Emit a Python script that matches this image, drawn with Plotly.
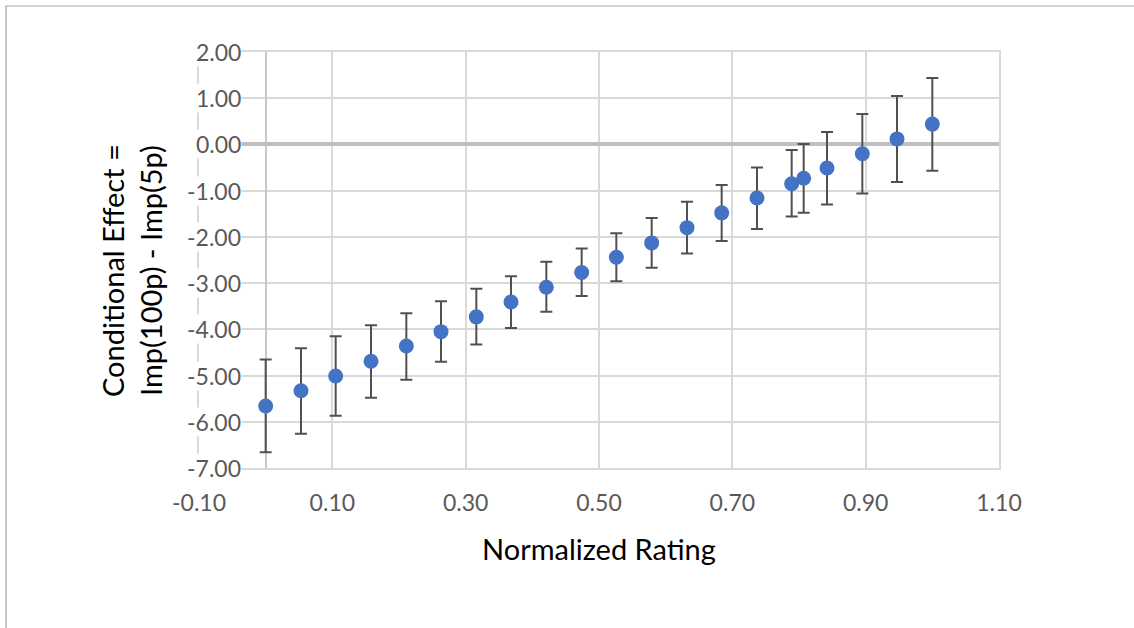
import plotly.graph_objects as go

# ---- data ----
rating = [0.000, 0.053, 0.105, 0.158, 0.211, 0.263, 0.316, 0.368, 0.421, 0.474,
          0.526, 0.579, 0.632, 0.684, 0.737, 0.789, 0.807, 0.842, 0.895, 0.947, 1.000]
effect = [-5.66, -5.33, -5.01, -4.69, -4.36, -4.05, -3.73, -3.41, -3.09, -2.77,
          -2.44, -2.13, -1.80, -1.48, -1.16, -0.85, -0.73, -0.51, -0.20, 0.12, 0.44]
err_plus = [1.01, 0.92, 0.86, 0.78, 0.71, 0.66, 0.61, 0.56, 0.55, 0.52,
            0.52, 0.54, 0.56, 0.60, 0.66, 0.73, 0.74, 0.78, 0.86, 0.93, 1.00]
err_minus = [1.00, 0.93, 0.86, 0.79, 0.73, 0.65, 0.60, 0.56, 0.53, 0.51,
             0.52, 0.54, 0.56, 0.61, 0.67, 0.71, 0.75, 0.79, 0.86, 0.93, 1.01]
x_ticks = [-0.10, 0.10, 0.30, 0.50, 0.70, 0.90, 1.10]
x_tick_labels = ["-0.10", "0.10", "0.30", "0.50", "0.70", "0.90", "1.10"]
y_ticks = [2.00, 1.00, 0.00, -1.00, -2.00, -3.00, -4.00, -5.00, -6.00, -7.00]
y_tick_labels = ["2.00", "1.00", "0.00", "-1.00", "-2.00", "-3.00", "-4.00",
                 "-5.00", "-6.00", "-7.00"]
x_title = "Normalized Rating"
y_title = "Conditional Effect =<br>Imp(100p) - Imp(5p)"

# ---- layout geometry ----
W, H = 1134, 628
ML, MR, MT, MB = 199, 135, 52, 160
PW, PH = W - ML - MR, H - MT - MB


def px_x(px):
    return (px - ML) / PW


def px_y(py):
    return 1 - (py - MT) / PH


FONT = "Lato, Calibri, Carlito, sans-serif"
TICK_COLOR = "#595959"
TICK_SIZE = 23
TITLE_SIZE = 29

fig = go.Figure()
fig.add_trace(go.Scatter(
    x=rating, y=effect, mode="markers",
    marker=dict(size=15, color="#4472C4"),
    error_y=dict(type="data", symmetric=False, array=err_plus, arrayminus=err_minus,
                 color="#505050", thickness=2, width=6),
    showlegend=False, cliponaxis=False,
))

annotations = []
for v, t in zip(y_ticks, y_tick_labels):
    annotations.append(dict(
        x=0, xref="x", y=v, yref="y", text=t, showarrow=False,
        xanchor="right", yanchor="middle", xshift=-24,
        font=dict(family=FONT, size=TICK_SIZE, color=TICK_COLOR),
        bgcolor="white", borderpad=0,
    ))
annotations.append(dict(
    x=0.5, xref="paper", y=px_y(548), yref="paper", text=x_title, showarrow=False,
    xanchor="center", yanchor="middle",
    font=dict(family=FONT, size=TITLE_SIZE, color="#000000"),
))
annotations.append(dict(
    x=px_x(131), xref="paper", y=px_y(271), yref="paper", text=y_title, showarrow=False,
    xanchor="center", yanchor="middle", textangle=-90,
    font=dict(family=FONT, size=TITLE_SIZE, color="#000000"),
))

fig.update_layout(
    width=W, height=H,
    margin=dict(l=ML, r=MR, t=MT, b=MB, autoexpand=False),
    paper_bgcolor="white", plot_bgcolor="white",
    annotations=annotations,
    shapes=[dict(type="rect", xref="paper", yref="paper",
                 x0=px_x(6), y0=px_y(700), x1=px_x(1200), y1=px_y(6),
                 line=dict(color="#a6a6a6", width=1.2), fillcolor="rgba(0,0,0,0)",
                 layer="below")],
)
fig.update_xaxes(
    range=[-0.10, 1.10], tickvals=x_ticks, ticktext=x_tick_labels,
    showgrid=True, gridcolor="#d9d9d9", gridwidth=1.5,
    zeroline=True, zerolinecolor="#c8c8c8", zerolinewidth=1.8,
    ticks="", ticklabelstandoff=14,
    tickfont=dict(family=FONT, size=TICK_SIZE, color=TICK_COLOR),
    showline=True, linecolor="#d9d9d9", linewidth=1.5, mirror=True,
    fixedrange=True,
)
fig.update_yaxes(
    range=[-7.0, 2.0], tickvals=y_ticks, showticklabels=False,
    showgrid=True, gridcolor="#d9d9d9", gridwidth=1.5,
    zeroline=True, zerolinecolor="#bfbfbf", zerolinewidth=4,
    ticks="",
    showline=True, linecolor="#d9d9d9", linewidth=1.5, mirror=True,
    fixedrange=True,
)

fig.write_html("out.html")
